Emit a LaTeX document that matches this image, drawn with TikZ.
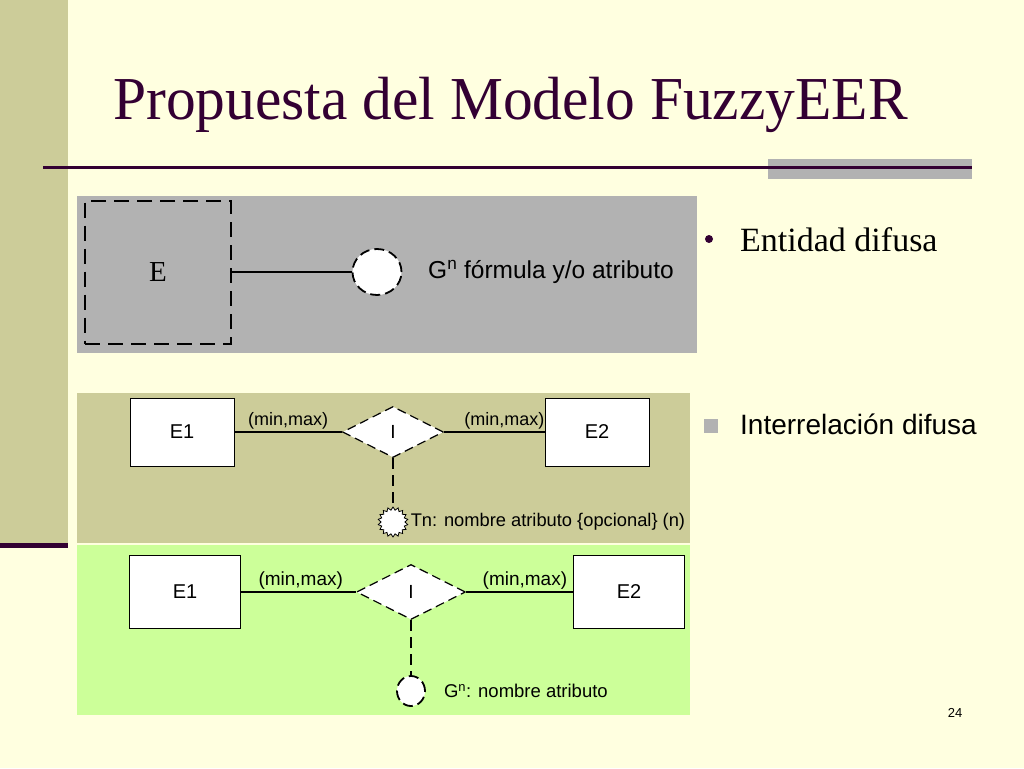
\documentclass[tikz,border=0pt]{standalone}
\usepackage{fontspec}
\setmainfont{Liberation Serif}
\setsansfont{Liberation Sans}
\newfontfamily\titlefont[FakeStretch=0.975]{Liberation Serif}
\usetikzlibrary{positioning,shapes.geometric,shapes.symbols}
\definecolor{cream}{HTML}{FFFFE0}
\definecolor{olive}{HTML}{CCCC99}
\definecolor{plum}{HTML}{330033}
\definecolor{panelgray}{HTML}{B2B2B2}
\definecolor{lime}{HTML}{CCFF99}
\newcommand{\fsz}[1]{\fontsize{#1}{#1}\selectfont}

\begin{document}
\begin{tikzpicture}[x=1pt, y=-1pt,
    entbox/.style 2 args={draw, fill=white, line width=1pt, minimum width=#1, minimum height=#2, inner sep=0pt, font=\sffamily\fsz{20}},
    relbox/.style 2 args={draw, fill=white, diamond, dash pattern=on 9pt off 5pt, line width=1.2pt, minimum width=#1, minimum height=#2, inner sep=0pt, font=\sffamily\fsz{19}},
    attrib/.style 2 args={draw, fill=white, ellipse, dash pattern=on 10pt off 5pt, line width=1.8pt, minimum width=#1, minimum height=#2, inner sep=0pt},
    link/.style={line width=1.2pt},
    dlink/.style={line width=1.2pt, dash pattern=on 11pt off 6pt},
    card/.style={above, inner sep=2pt, font=\sffamily\fsz{#1}},
    note/.style={font=\sffamily\fsz{#1}, inner sep=0pt}
]
    % slide background
    \fill[cream] (0,0) rectangle (1024,768);
    \useasboundingbox (0,0) rectangle (1024,768);
    \fill[olive] (0,0) rectangle (68,543);
    \fill[plum] (0,543) rectangle (68,548);

    % title
    \node[anchor=base west, inner sep=0pt, text=plum, font=\titlefont\fsz{61}] (title) at (113,119) {Propuesta del Modelo FuzzyEER};
    \fill[panelgray] (768,159) rectangle (972,179);
    \draw[plum, line width=3pt] (43,167) -- (972,167);

    % fuzzy entity
    \fill[panelgray] (77,196) rectangle (697,353);
    \node[draw, line width=2pt, dash pattern=on 15pt off 8pt, minimum width=146pt, minimum height=143pt, inner sep=0pt, font=\fsz{29}] (ent) at (158,272) {E};
    \node[attrib={49pt}{46pt}] (gattr) at (377,272) {};
    \draw[link] (ent) -- (gattr);
    \node[note=24.5, anchor=west] (glabel) at (428,272) {G\textsuperscript{n} fórmula y/o atributo};

    % fuzzy relationship, T
    \fill[olive] (77,393) rectangle (690,543);
    \node[entbox={104pt}{68pt}] (ea) at (182,432) {E1};
    \node[entbox={104pt}{68pt}] (eb) at (597,432) {E2};
    \node[relbox={101pt}{51pt}] (rel) at (393,432) {I};
    \node[draw, fill=white, starburst, starburst points=18, starburst point height=3pt, random starburst=0, line width=0.8pt, minimum width=30pt, minimum height=30pt, inner sep=0pt] (star) at (393,522) {};
    \draw[link] (ea) -- node[card=18, pos=0.5] {(min,max)} (rel);
    \draw[link] (rel) -- node[card=18, pos=0.6] {(min,max)} (eb);
    \draw[dlink] (rel) -- (star);
    \node[note=18.3, right=5pt of star] (tlabel) {Tn: nombre atributo \{opcional\} (n)};

    % fuzzy relationship, G
    \fill[lime] (77,545) rectangle (690,715);
    \node[entbox={111pt}{73pt}] (ec) at (185,592) {E1};
    \node[entbox={111pt}{73pt}] (ed) at (629,592) {E2};
    \node[relbox={109pt}{55pt}] (relg) at (411,592) {I};
    \node[attrib={28pt}{30pt}] (gnattr) at (411,691) {};
    \draw[link] (ec) -- node[card=19, pos=0.52] {(min,max)} (relg);
    \draw[link] (relg) -- node[card=19, pos=0.55] {(min,max)} (ed);
    \draw[dlink] (relg) -- (gnattr);
    \node[note=18.5, right=18pt of gnattr] (gnlabel) {G\textsuperscript{n}: nombre atributo};

    % bullets
    \fill[plum] (709,239) circle (4pt);
    \node[anchor=base west, inner sep=0pt, font=\fsz{34}] (bent) at (740,251) {Entidad difusa};
    \fill[panelgray] (704,419) rectangle (718,433);
    \node[anchor=base west, inner sep=0pt, font=\sffamily\fsz{28}] (brel) at (740,434) {Interrelación difusa};

    \node[note=13] (pnum) at (955,713) {24};
\end{tikzpicture}
\end{document}
